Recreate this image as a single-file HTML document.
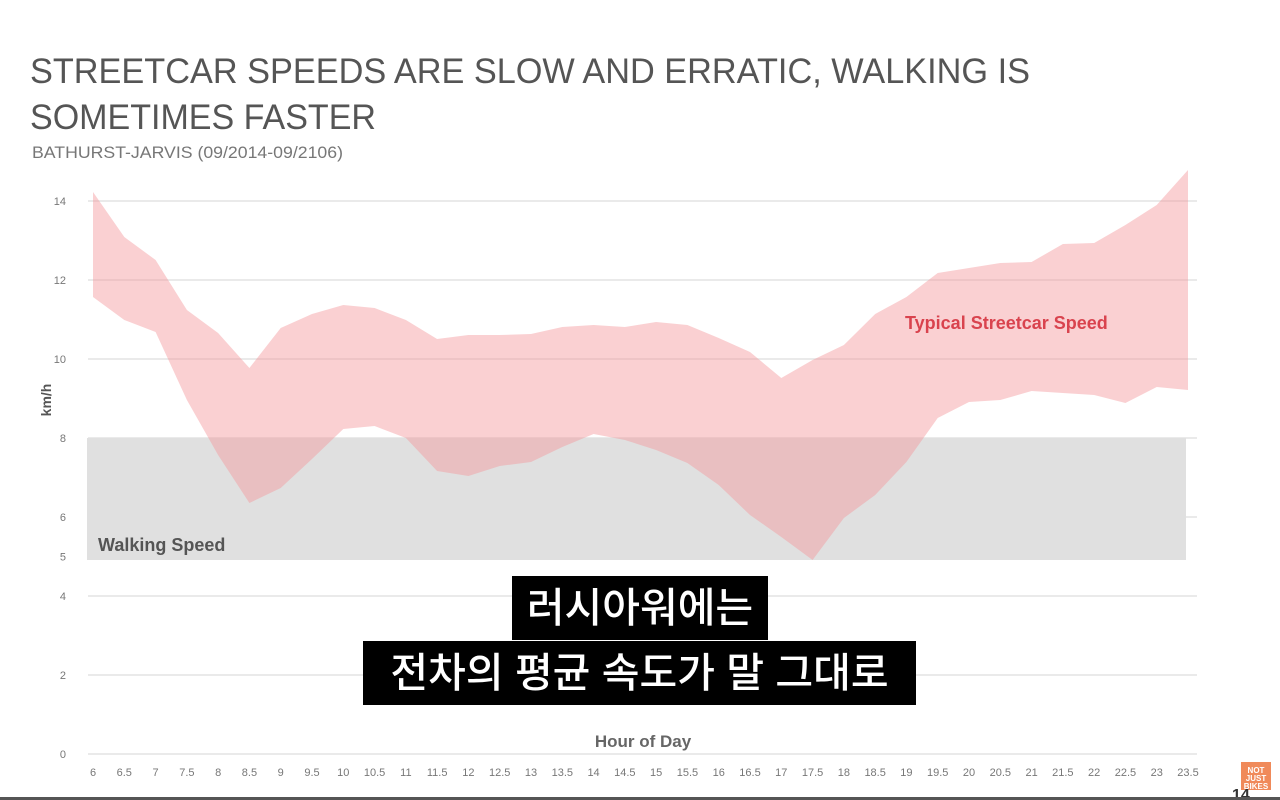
<!DOCTYPE html>
<html><head><meta charset="utf-8"><style>
html,body{margin:0;padding:0;background:#fff;width:1280px;height:800px;overflow:hidden;font-family:"Liberation Sans",sans-serif}
.sub{position:absolute;background:#000;color:#fff;font-family:"Liberation Sans","Noto Sans CJK KR",sans-serif;font-size:41px;font-weight:500;line-height:64px;text-align:center;white-space:nowrap}
</style></head><body>
<svg id="s" width="1280" height="800" style="position:absolute;left:0;top:0" xmlns="http://www.w3.org/2000/svg">
<text x="30" y="83" font-size="35" fill="#555" font-family="Liberation Sans" textLength="1000" lengthAdjust="spacingAndGlyphs">STREETCAR SPEEDS ARE SLOW AND ERRATIC, WALKING IS</text>
<text x="30" y="129" font-size="35" fill="#555" font-family="Liberation Sans" textLength="346" lengthAdjust="spacingAndGlyphs">SOMETIMES FASTER</text>
<text x="32" y="158" font-size="17" fill="#777" textLength="311" lengthAdjust="spacingAndGlyphs">BATHURST-JARVIS (09/2014-09/2106)</text>
<g id="grid" stroke="#e3e3e3" stroke-width="1.5"></g>
<rect x="87" y="438" width="1099" height="122" fill="#e0e0e0"/>
<polygon id="band" fill="rgb(245,150,155)" fill-opacity="0.45"/>
<g id="yl" font-size="11" fill="#777" text-anchor="end"></g>
<g id="xl" font-size="11" fill="#777" text-anchor="middle"></g>
<text x="98" y="551" font-size="18" font-weight="bold" fill="#555">Walking Speed</text>
<text x="905" y="329" font-size="18" font-weight="bold" fill="#d9434e">Typical Streetcar Speed</text>
<text x="643" y="747" font-size="17" font-weight="bold" fill="#666" text-anchor="middle">Hour of Day</text>
<text x="51" y="400" font-size="14" font-weight="bold" fill="#555" text-anchor="middle" transform="rotate(-90 51 400)">km/h</text>
<rect x="1241" y="762" width="30" height="28" fill="#f08a5a"/>
<text x="1256" y="773" font-size="8" font-weight="bold" fill="#fff" text-anchor="middle">NOT</text>
<text x="1256" y="781" font-size="8" font-weight="bold" fill="#fff" text-anchor="middle">JUST</text>
<text x="1256" y="789" font-size="8" font-weight="bold" fill="#fff" text-anchor="middle">BIKES</text>
<text x="1232" y="800" font-size="16" font-weight="bold" fill="#333">14</text>
<rect x="0" y="797" width="1280" height="3" fill="#555"/>
</svg>
<div class="sub" style="left:512px;top:576px;width:256px">러시아워에는</div>
<div class="sub" style="left:363px;top:641px;width:553px">전차의 평균 속도가 말 그대로</div>
<script>
var ns="http://www.w3.org/2000/svg";
function el(p,t,a,txt){var e=document.createElementNS(ns,t);for(var k in a)e.setAttribute(k,a[k]);if(txt)e.textContent=txt;document.getElementById(p).appendChild(e);}
function Y(v){return 754-39.5*v;}
[0,2,4,5,6,8,10,12,14].forEach(function(v){
 if(v!=5)el("grid","line",{x1:88,x2:1197,y1:Y(v),y2:Y(v)});
 el("yl","text",{x:66,y:Y(v)+4},String(v));});
var up=[192,237,260,310,333,368,328,314,305,308,320,339,335,335,334,327,325,327,322,325,338,352,378,360,345,314,297,273,268,263,262,244,243,225,205,170];
var lo=[297,320,332,400,455,503,488,459,429,426,438,471,476,466,462,447,434,440,450,463,485,515,537,560,518,495,462,418,402,400,391,393,395,403,387,390];
var pts=[];
for(var i=0;i<36;i++){var x=93+31.286*i;pts.push(x.toFixed(1)+","+up[i]);
 var h=6+i*0.5;el("xl","text",{x:x,y:776},String(h));}
for(var i=35;i>=0;i--){pts.push((93+31.286*i).toFixed(1)+","+lo[i]);}
document.getElementById("band").setAttribute("points",pts.join(" "));
</script>
</body></html>
